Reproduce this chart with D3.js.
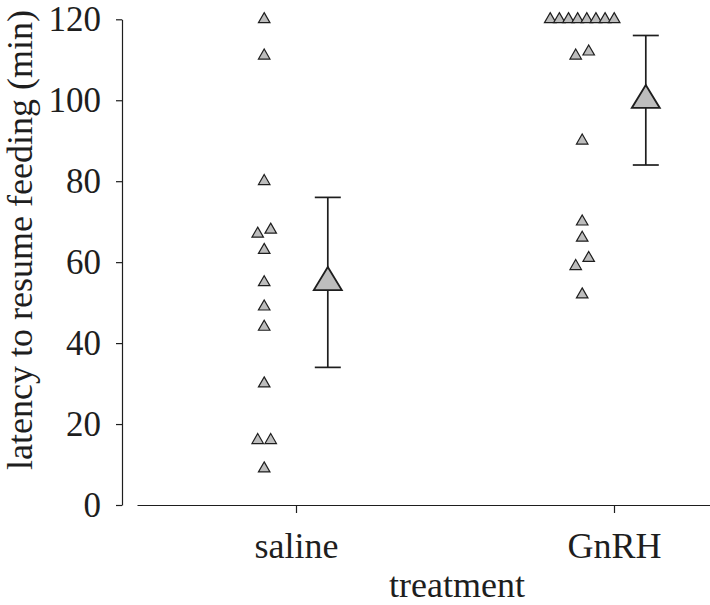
<!DOCTYPE html>
<html>
<head>
<meta charset="utf-8">
<script src="https://cdn.jsdelivr.net/npm/d3@7"></script>
<style>
  html, body { margin: 0; padding: 0; background: #fff; }
  svg { display: block; }
</style>
</head>
<body>
<div id="chart"></div>
<script>
// categories on the x axis
const categories = ['saline', 'GnRH']

// individual latencies (min)
const salineValues = [120, 111, 80, 68, 67, 63, 55, 49, 44, 30, 16, 16, 9]
const gnrhValues = [120, 120, 120, 120, 120, 120, 120, 120, 112, 111, 90, 70, 66, 61, 59, 52]

// group summary: centre marker and error bar ends
const summaryMid = [55, 100]
const summaryLow = [34, 84]
const summaryHigh = [76, 116]

const yTicks = [0, 20, 40, 60, 80, 100, 120]

const width = 710
const height = 605
const ink = '#1e1e1e'
const fillGrey = '#bdbdbd'
const font = '"Liberation Serif", "Times New Roman", serif'

const svg = d3
  .select('#chart')
  .append('svg')
  .attr('width', width)
  .attr('height', height)

// x: category index 1..2, axis runs from 0.5 (right end cropped by the frame)
const x = d3.scaleLinear().domain([0.5, 2.5]).range([137, 773])
const y = d3.scaleLinear().domain([0, 120]).range([505, 19.3])

// y axis
const yAxis = svg
  .append('g')
  .attr('transform', 'translate(122,0)')
  .call(d3.axisLeft(y).tickValues(yTicks).tickSize(6).tickSizeOuter(0).tickPadding(15))
yAxis.select('.domain').attr('stroke', ink).attr('stroke-width', 1.2)
yAxis.selectAll('.tick line').attr('stroke', ink).attr('stroke-width', 1.2)
yAxis
  .selectAll('.tick text')
  .attr('font-family', font)
  .attr('font-size', 35)
  .attr('fill', ink)

// x axis
const xAxis = svg
  .append('g')
  .attr('transform', 'translate(0,505)')
  .call(
    d3
      .axisBottom(x)
      .tickValues([1, 2])
      .tickFormat((d) => categories[d - 1])
      .tickSize(8)
      .tickSizeOuter(0)
      .tickPadding(19),
  )
xAxis.select('.domain').attr('stroke', ink).attr('stroke-width', 1.2)
xAxis.selectAll('.tick line').attr('stroke', ink).attr('stroke-width', 1.2)
xAxis
  .selectAll('.tick text')
  .attr('font-family', font)
  .attr('font-size', 36)
  .attr('fill', ink)

// axis titles
svg
  .append('text')
  .attr('x', 457)
  .attr('y', 597)
  .attr('text-anchor', 'middle')
  .attr('font-family', font)
  .attr('font-size', 36)
  .attr('fill', ink)
  .text('treatment')

svg
  .append('text')
  .attr('transform', 'translate(32,240) rotate(-90)')
  .attr('text-anchor', 'middle')
  .attr('font-family', font)
  .attr('font-size', 36)
  .attr('fill', ink)
  .text('latency to resume feeding (min)')

// triangle path with its centroid at (0,0)
function trianglePath(w, h) {
  return `M0,${-2 * h / 3}L${w / 2},${h / 3}L${-w / 2},${h / 3}Z`
}

// spread points that sit on (nearly) the same value side by side
function dodge(values) {
  const sorted = values.slice().sort((a, b) => a - b)
  const groups = []
  sorted.forEach((v) => {
    const last = groups[groups.length - 1]
    if (last && v - last[last.length - 1] <= 2.5) last.push(v)
    else groups.push([v])
  })
  const out = []
  groups.forEach((g) => {
    const n = g.length
    const step = n > 1 ? Math.min(13, 64 / (n - 1)) : 0
    g.forEach((v, i) => out.push({ value: v, dx: (i - (n - 1) / 2) * step }))
  })
  return out
}

const groups = [salineValues, gnrhValues]

groups.forEach((vals, gi) => {
  const cx = x(gi + 1 - 0.1)
  svg
    .append('g')
    .selectAll('path')
    .data(dodge(vals))
    .join('path')
    .attr('d', trianglePath(11.5, 10))
    .attr('transform', (d) => `translate(${cx + d.dx},${y(d.value)})`)
    .attr('fill', fillGrey)
    .attr('stroke', ink)
    .attr('stroke-width', 1.2)
})

// error bars with summary markers
const summary = categories.map((c, i) => ({
  cat: i + 1,
  mid: summaryMid[i],
  low: summaryLow[i],
  high: summaryHigh[i],
}))

const bars = svg
  .append('g')
  .selectAll('g')
  .data(summary)
  .join('g')
  .attr('transform', (d) => `translate(${x(d.cat + 0.1)},0)`)

bars
  .append('line')
  .attr('y1', (d) => y(d.low))
  .attr('y2', (d) => y(d.high))
  .attr('stroke', ink)
  .attr('stroke-width', 1.7)

bars
  .selectAll('line.cap')
  .data((d) => [d.low, d.high])
  .join('line')
  .attr('class', 'cap')
  .attr('x1', -13)
  .attr('x2', 13)
  .attr('y1', (v) => y(v))
  .attr('y2', (v) => y(v))
  .attr('stroke', ink)
  .attr('stroke-width', 1.7)

bars
  .append('path')
  .attr('d', trianglePath(28, 23))
  .attr('transform', (d) => `translate(0,${y(d.mid)})`)
  .attr('fill', fillGrey)
  .attr('stroke', ink)
  .attr('stroke-width', 1.8)
</script>
</body>
</html>
